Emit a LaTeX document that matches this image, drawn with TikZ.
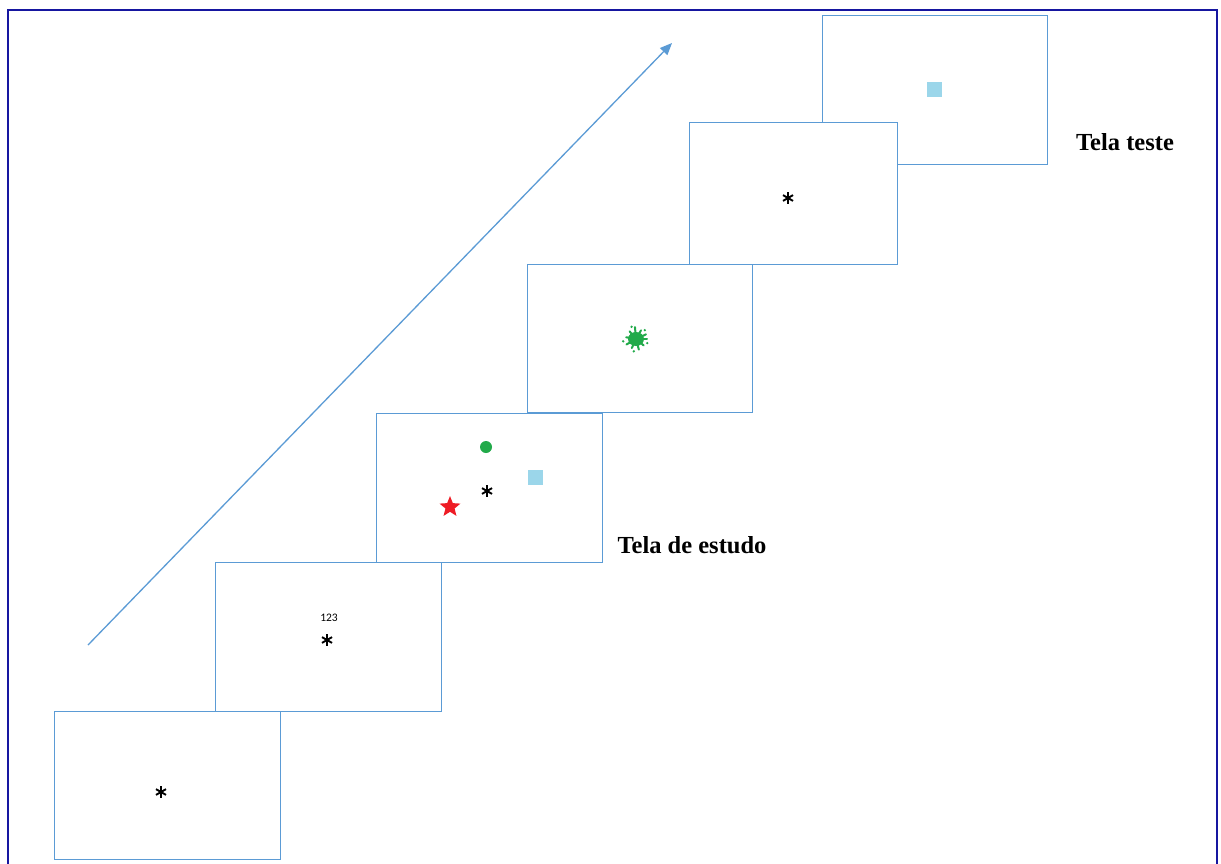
\documentclass[tikz,border=0pt]{standalone}
\usepackage{fontspec}
\setmainfont{Liberation Serif}
\newfontfamily\calib{Carlito}
\usetikzlibrary{shapes.geometric,arrows.meta}
\definecolor{frameblue}{HTML}{5B9BD5}
\definecolor{bordernavy}{HTML}{1616A0}
\definecolor{lightsq}{HTML}{9BD6EA}
\definecolor{dotgreen}{HTML}{22AA4A}
\definecolor{starred}{HTML}{EE1C25}
\tikzset{
  screen/.style={draw=frameblue, line width=0.9pt, fill=white, rectangle, inner sep=0pt},
  aster/.style={circle, minimum size=16pt, inner sep=0pt,
    path picture={
      \foreach \ang in {90,150,210,270,330,30}{
        \draw[black, line width=1.9pt] (path picture bounding box.center) -- ++(\ang:5.8pt);
      }
    }},
  label/.style={font=\bfseries\fontsize{24.5}{26}\selectfont, inner sep=0pt},
  sq/.style={fill=lightsq, rectangle, minimum size=15pt, inner sep=0pt},
}
\begin{document}
\begin{tikzpicture}[x=1pt,y=-1pt]
\useasboundingbox (0,0) rectangle (1221,863);
\fill[white] (0,0) rectangle (1221,863);
\draw[bordernavy, line width=1.8pt] (8,870) -- (8,10) -- (1217,10) -- (1217,870);
% arrow
\coordinate (arrS) at (88,645);
\coordinate (arrE) at (672,43);
\draw[frameblue, line width=1.3pt, -{Triangle[length=12pt,width=10pt]}] (arrS) -- (arrE);
% screens (back to front)
\node[screen, minimum width=225pt, minimum height=149pt] (s6) at (934.5,89.5) {};
\node[screen, minimum width=208pt, minimum height=142pt] (s5) at (793,193) {};
\node[screen, minimum width=225pt, minimum height=148pt] (s4) at (639.5,338) {};
\node[screen, minimum width=226pt, minimum height=149pt] (s3) at (489,487.5) {};
\node[screen, minimum width=226pt, minimum height=149pt] (s2) at (328,636.5) {};
\node[screen, minimum width=226pt, minimum height=148pt] (s1) at (167,785) {};
% contents
\node[aster] (a1) at (161,792) {};
\node[aster] (a2) at (327,640) {};
\node[font=\calib\fontsize{11.5}{11.5}\selectfont, inner sep=0pt] (n123) at (329,618) {123};
\node[aster] (a3) at (487,491) {};
\node[aster] (a5) at (788,198) {};
\node[sq] (q3) at (535.5,477.5) {};
\node[sq] (q6) at (934,89) {};
\node[circle, fill=dotgreen, minimum size=12pt, inner sep=0pt] (dot) at (486,447) {};
\node[star, star points=5, star point ratio=2.3, fill=starred, minimum size=22pt, inner sep=0pt] (st) at (450,507) {};
% splat
\begin{scope}[shift={(636,339)}]
  \fill[dotgreen] (0,0) ellipse (8pt and 7pt);
  \foreach \a/\l in {0/11,40/10,75/11,115/10,150/11,190/10,230/10,265/12,300/10,335/11}{
    \draw[dotgreen, line width=2pt, line cap=round] (\a:5) -- (\a:\l);
  }
  \foreach \a/\r in {20/12,100/12.5,170/13,250/13,315/12.5}{
    \fill[dotgreen] (\a:\r) circle (1.3pt);
  }
\end{scope}
% labels
\node[label] (lt) at (1125,142) {Tela teste};
\node[label] (le) at (692,545) {Tela de estudo};
\end{tikzpicture}
\end{document}
